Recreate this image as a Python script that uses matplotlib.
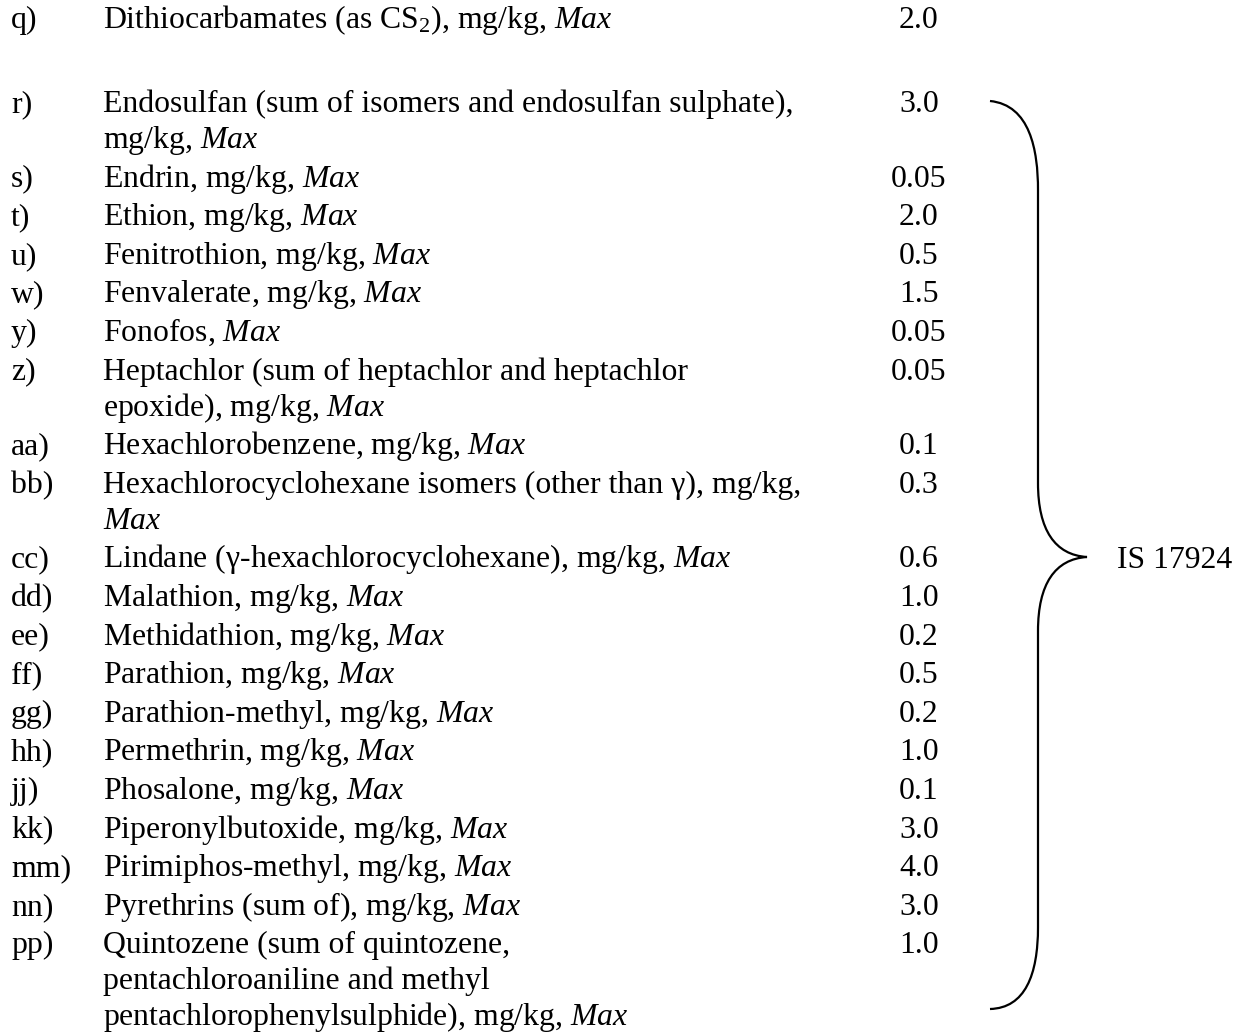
import matplotlib
matplotlib.use("Agg")
import matplotlib.pyplot as plt
from matplotlib.path import Path
from matplotlib.patches import PathPatch

plt.rcParams['font.family'] = ['Liberation Serif', 'DejaVu Serif']
plt.rcParams['mathtext.fontset'] = 'custom'
plt.rcParams['mathtext.rm'] = 'Liberation Serif'
plt.rcParams['mathtext.it'] = 'Liberation Serif:italic'

MAX = r'$\mathit{Max}$'

# table content
item_labels = ['q)', 'r)', 's)', 't)', 'u)', 'w)', 'y)', 'z)', 'aa)', 'bb)', 'cc)',
               'dd)', 'ee)', 'ff)', 'gg)', 'hh)', 'jj)', 'kk)', 'mm)', 'nn)', 'pp)']
item_texts = [
    ['Dithiocarbamates (as CS$_{\\mathrm{2}}$), mg/kg, ' + MAX],
    ['Endosulfan (sum of isomers and endosulfan sulphate),', 'mg/kg, ' + MAX],
    ['Endrin, mg/kg, ' + MAX],
    ['Ethion, mg/kg, ' + MAX],
    ['Fenitrothion, mg/kg, ' + MAX],
    ['Fenvalerate, mg/kg, ' + MAX],
    ['Fonofos, ' + MAX],
    ['Heptachlor (sum of heptachlor and heptachlor', 'epoxide), mg/kg, ' + MAX],
    ['Hexachlorobenzene, mg/kg, ' + MAX],
    ['Hexachlorocyclohexane isomers (other than \u03b3), mg/kg,', MAX],
    ['Lindane (\u03b3-hexachlorocyclohexane), mg/kg, ' + MAX],
    ['Malathion, mg/kg, ' + MAX],
    ['Methidathion, mg/kg, ' + MAX],
    ['Parathion, mg/kg, ' + MAX],
    ['Parathion-methyl, mg/kg, ' + MAX],
    ['Permethrin, mg/kg, ' + MAX],
    ['Phosalone, mg/kg, ' + MAX],
    ['Piperonylbutoxide, mg/kg, ' + MAX],
    ['Pirimiphos-methyl, mg/kg, ' + MAX],
    ['Pyrethrins (sum of), mg/kg, ' + MAX],
    ['Quintozene (sum of quintozene,', 'pentachloroaniline and methyl',
     'pentachlorophenylsulphide), mg/kg, ' + MAX],
]
item_values = ['2.0', '3.0', '0.05', '2.0', '0.5', '1.5', '0.05', '0.05', '0.1', '0.3', '0.6',
               '1.0', '0.2', '0.5', '0.2', '1.0', '0.1', '3.0', '4.0', '3.0', '1.0']
method = 'IS 17924'

W, H = 1235, 1034
fig = plt.figure(figsize=(W / 100, H / 100), dpi=100)
ax = fig.add_axes([0, 0, 1, 1])
ax.set_xlim(0, W)
ax.set_ylim(H, 0)
ax.axis('off')

fs = 22.9
# header line cut off by the top edge
ax.text(1228, 0.5, 'October', fontsize=fs, ha='right', va='baseline')

y = 28
for i, (lab, lines, val) in enumerate(zip(item_labels, item_texts, item_values)):
    if i == 1:
        y = 112
    ax.text(11, y, lab, fontsize=fs, va='baseline')
    ax.text(919, y, val, fontsize=fs, ha='center', va='baseline')
    for j, line in enumerate(lines):
        ax.text(103, y + 36 * j, line, fontsize=fs, va='baseline')
    y += 36 * (len(lines) - 1) + 38.6

# curly brace grouping r) .. pp)
verts = [(990, 101), (1030, 105), (1038, 150), (1038, 190),
         (1038, 483),
         (1038, 530), (1055, 555), (1087, 557),
         (1055, 559), (1038, 584), (1038, 631),
         (1038, 927),
         (1038, 975), (1025, 1008), (990, 1009)]
codes = [Path.MOVETO, Path.CURVE4, Path.CURVE4, Path.CURVE4,
         Path.LINETO,
         Path.CURVE4, Path.CURVE4, Path.CURVE4,
         Path.CURVE4, Path.CURVE4, Path.CURVE4,
         Path.LINETO,
         Path.CURVE4, Path.CURVE4, Path.CURVE4]
ax.add_patch(PathPatch(Path(verts, codes), fill=False, lw=1.6, ec='black'))
ax.text(1117, 568, method, fontsize=fs, va='baseline')

fig.savefig('out.png', dpi=100, facecolor='white')
